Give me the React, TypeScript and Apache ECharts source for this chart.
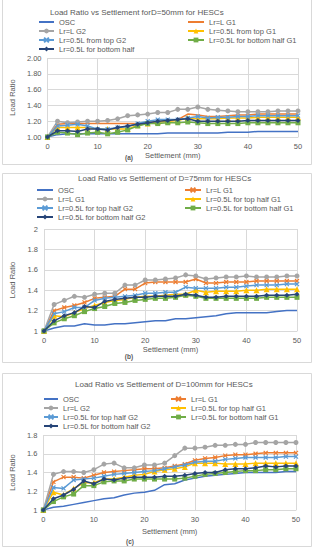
import React, { useEffect, useRef } from "react";
import * as echarts from "echarts";

const settlement = [0, 2, 4, 6, 8, 10, 12, 14, 16, 18, 20, 22, 24, 26, 28, 30, 32, 34, 36, 38, 40, 42, 44, 46, 48, 50];

// Chart (a) D=50mm
const aOSC = [1.00, 1.03, 1.04, 1.04, 1.04, 1.04, 1.04, 1.04, 1.04, 1.04, 1.04, 1.04, 1.05, 1.05, 1.05, 1.05, 1.05, 1.05, 1.06, 1.06, 1.06, 1.07, 1.07, 1.07, 1.07, 1.07];
const aLrLG1 = [1.00, 1.16, 1.17, 1.17, 1.17, 1.17, 1.17, 1.17, 1.17, 1.17, 1.18, 1.19, 1.20, 1.22, 1.29, 1.28, 1.26, 1.26, 1.27, 1.28, 1.28, 1.29, 1.29, 1.29, 1.29, 1.29];
const aLrLG2 = [1.00, 1.20, 1.18, 1.19, 1.20, 1.20, 1.21, 1.23, 1.27, 1.28, 1.29, 1.31, 1.31, 1.35, 1.35, 1.38, 1.35, 1.34, 1.33, 1.32, 1.32, 1.32, 1.32, 1.33, 1.33, 1.33];
const aTopG1 = [1.00, 1.12, 1.12, 1.12, 1.12, 1.10, 1.10, 1.10, 1.10, 1.15, 1.17, 1.19, 1.20, 1.21, 1.24, 1.23, 1.23, 1.23, 1.24, 1.24, 1.24, 1.25, 1.25, 1.25, 1.25, 1.25];
const aTopG2 = [1.00, 1.14, 1.15, 1.16, 1.14, 1.10, 1.10, 1.12, 1.13, 1.17, 1.20, 1.22, 1.22, 1.22, 1.24, 1.26, 1.24, 1.25, 1.25, 1.26, 1.26, 1.27, 1.27, 1.27, 1.27, 1.27];
const aBotG1 = [1.00, 1.06, 1.05, 1.03, 1.05, 1.06, 1.04, 1.06, 1.09, 1.14, 1.17, 1.17, 1.18, 1.18, 1.19, 1.18, 1.17, 1.17, 1.17, 1.17, 1.18, 1.18, 1.18, 1.18, 1.18, 1.18];
const aBotHalf = [1.00, 1.08, 1.08, 1.07, 1.10, 1.10, 1.09, 1.12, 1.14, 1.16, 1.18, 1.20, 1.21, 1.22, 1.23, 1.20, 1.20, 1.20, 1.20, 1.20, 1.21, 1.21, 1.21, 1.21, 1.21, 1.21];
const aLabels = ["OSC", "Lr=L G1", "Lr=L G2", "Lr=0.5L from top G1", "Lr=0.5L from top G2", "Lr=0.5L for bottom half G1", "Lr=0.5L for bottom half"];

// Chart (b) D=75mm
const bOSC = [1.00, 1.03, 1.05, 1.05, 1.07, 1.06, 1.06, 1.07, 1.07, 1.08, 1.09, 1.10, 1.10, 1.12, 1.12, 1.13, 1.14, 1.15, 1.17, 1.18, 1.18, 1.18, 1.18, 1.19, 1.20, 1.20];
const bLrLG1 = [1.00, 1.20, 1.23, 1.25, 1.28, 1.32, 1.33, 1.34, 1.41, 1.41, 1.47, 1.48, 1.48, 1.48, 1.48, 1.51, 1.47, 1.47, 1.48, 1.48, 1.48, 1.49, 1.49, 1.49, 1.49, 1.49];
const bLrLG1gray = [1.00, 1.26, 1.30, 1.34, 1.33, 1.36, 1.37, 1.37, 1.45, 1.45, 1.50, 1.50, 1.51, 1.52, 1.55, 1.54, 1.51, 1.52, 1.53, 1.53, 1.54, 1.53, 1.53, 1.53, 1.54, 1.54];
const bTopG1 = [1.00, 1.15, 1.14, 1.18, 1.22, 1.25, 1.28, 1.30, 1.31, 1.33, 1.34, 1.34, 1.35, 1.36, 1.36, 1.40, 1.38, 1.39, 1.39, 1.39, 1.40, 1.40, 1.41, 1.41, 1.41, 1.41];
const bTopG2 = [1.00, 1.17, 1.19, 1.23, 1.23, 1.30, 1.32, 1.33, 1.34, 1.35, 1.37, 1.37, 1.38, 1.38, 1.43, 1.42, 1.42, 1.42, 1.43, 1.43, 1.44, 1.45, 1.45, 1.45, 1.46, 1.46];
const bBotG1 = [1.00, 1.08, 1.12, 1.15, 1.19, 1.22, 1.24, 1.27, 1.28, 1.30, 1.31, 1.32, 1.32, 1.33, 1.35, 1.34, 1.32, 1.32, 1.32, 1.32, 1.32, 1.32, 1.33, 1.33, 1.33, 1.33];
const bBotG2 = [1.00, 1.10, 1.15, 1.18, 1.24, 1.23, 1.29, 1.31, 1.32, 1.33, 1.33, 1.34, 1.34, 1.34, 1.36, 1.35, 1.33, 1.33, 1.34, 1.34, 1.34, 1.34, 1.35, 1.35, 1.35, 1.36];
const bLabels = ["OSC", "Lr=L G1", "Lr=L G1", "Lr=0.5L for top half G1", "Lr=0.5L for top half G2", "Lr=0.5L for bottom half G1", "Lr=0.5L for bottom half G2"];

// Chart (c) D=100mm
const cOSC = [1.00, 1.03, 1.04, 1.06, 1.08, 1.10, 1.12, 1.13, 1.16, 1.18, 1.19, 1.21, 1.27, 1.28, 1.32, 1.34, 1.36, 1.37, 1.38, 1.39, 1.40, 1.40, 1.40, 1.40, 1.41, 1.41];
const cLrLG1 = [1.00, 1.30, 1.35, 1.35, 1.34, 1.37, 1.40, 1.41, 1.42, 1.43, 1.44, 1.44, 1.45, 1.47, 1.49, 1.53, 1.55, 1.56, 1.58, 1.59, 1.59, 1.60, 1.61, 1.61, 1.61, 1.61];
const cLrLG2 = [1.00, 1.38, 1.41, 1.41, 1.40, 1.43, 1.49, 1.50, 1.45, 1.45, 1.48, 1.48, 1.50, 1.58, 1.66, 1.66, 1.67, 1.69, 1.69, 1.70, 1.70, 1.72, 1.72, 1.72, 1.72, 1.72];
const cTopG1 = [1.00, 1.19, 1.16, 1.23, 1.29, 1.29, 1.33, 1.33, 1.35, 1.37, 1.38, 1.41, 1.43, 1.44, 1.46, 1.50, 1.50, 1.50, 1.49, 1.49, 1.49, 1.50, 1.50, 1.50, 1.50, 1.50];
const cTopG2 = [1.00, 1.24, 1.23, 1.32, 1.33, 1.34, 1.36, 1.38, 1.39, 1.40, 1.41, 1.42, 1.44, 1.46, 1.48, 1.51, 1.52, 1.52, 1.54, 1.55, 1.56, 1.56, 1.56, 1.56, 1.57, 1.57];
const cBotG1 = [1.00, 1.09, 1.14, 1.17, 1.26, 1.26, 1.30, 1.31, 1.31, 1.33, 1.33, 1.33, 1.33, 1.33, 1.34, 1.36, 1.38, 1.39, 1.40, 1.41, 1.42, 1.42, 1.43, 1.43, 1.44, 1.44];
const cBotG2 = [1.00, 1.12, 1.16, 1.22, 1.31, 1.28, 1.33, 1.32, 1.34, 1.35, 1.35, 1.35, 1.36, 1.36, 1.37, 1.39, 1.40, 1.40, 1.43, 1.44, 1.44, 1.45, 1.47, 1.46, 1.47, 1.47];
const cLabels = ["OSC", "Lr=L G1", "Lr=L G2", "Lr=0.5L for top half G1", "Lr=0.5L for top half G2", "Lr=0.5L for bottom half G1", "Lr=0.5L for bottom half G2"];

const titles = [
  "Load Ratio vs Settlement forD=50mm for HESCs",
  "Load Ratio vs Settlement of D=75mm for HESCs",
  "Load Ratio vs Settlement of D=100mm for HESCs",
];
const panelTags = ["(a)", "(b)", "(c)"];

const COLORS = ["#4472C4", "#ED7D31", "#A5A5A5", "#FFC000", "#5B9BD5", "#70AD47", "#264478"];
const XMARK = "path://M0,0L10,10M10,0L0,10";
const FONT = "Liberation Sans, Arial, sans-serif";
const TXT = "#595959";
const GRIDC = "#d9d9d9";

export default function App() {
  const ref = useRef<HTMLDivElement>(null);
  useEffect(() => {
    if (!ref.current) return;
    const chart = echarts.init(ref.current, null, { renderer: "svg" });

    const sets = [
      [aOSC, aLrLG1, aLrLG2, aTopG1, aTopG2, aBotG1, aBotHalf],
      [bOSC, bLrLG1, bLrLG1gray, bTopG1, bTopG2, bBotG1, bBotG2],
      [cOSC, cLrLG1, cLrLG2, cTopG1, cTopG2, cBotG1, cBotG2],
    ];
    const labelSets = [aLabels, bLabels, cLabels];
    const symbolsFor = (g: number) => [
      "none",
      g === 0 ? "none" : XMARK,
      "circle",
      "triangle",
      XMARK,
      "rect",
      "diamond",
    ];
    const prefix = ["a", "b", "c"];
    const nameMap: Record<string, string> = {};
    const noSymbol: Record<string, boolean> = {};
    const series: any[] = [];
    sets.forEach((set, g) => {
      const syms = symbolsFor(g);
      set.forEach((vals, k) => {
        const id = prefix[g] + k;
        nameMap[id] = labelSets[g][k];
        const sym = syms[k];
        noSymbol[id] = sym === "none";
        const isX = sym === XMARK;
        series.push({
          type: "line",
          name: id,
          xAxisIndex: g,
          yAxisIndex: g,
          data: settlement.map((s, i) => [s, vals[i]]),
          symbol: sym,
          symbolSize: isX ? 4 : sym === "triangle" ? 6 : 5,
          showSymbol: sym !== "none",
          lineStyle: { width: 1.5, color: COLORS[k] },
          itemStyle: { color: COLORS[k], borderColor: COLORS[k], borderWidth: isX ? 1.2 : 0 },
          z: 2 + k,
        });
      });
    });

    const grids = [
      { left: 45, top: 58, width: 253, height: 79 },
      { left: 42, top: 229, width: 255, height: 102 },
      { left: 42, top: 435, width: 254, height: 75 },
    ];
    const yRanges = [
      { min: 1, max: 2, fmt: (v: number) => v.toFixed(2) },
      { min: 1, max: 2, fmt: (v: number) => String(Math.round(v * 10) / 10) },
      { min: 1, max: 1.8, fmt: (v: number) => String(Math.round(v * 10) / 10) },
    ];
    const xNameGaps = [14, 14, 17];
    const yNameGaps = [30, 28, 24];

    const xAxis = grids.map((_, g) => ({
      type: "value",
      gridIndex: g,
      min: 0,
      max: 50,
      interval: 10,
      axisLine: { show: true, lineStyle: { color: GRIDC, width: 1 } },
      axisTick: { show: false },
      splitLine: { show: true, lineStyle: { color: GRIDC, width: 1 } },
      axisLabel: { fontSize: 7.5, color: TXT, margin: 5, fontFamily: FONT },
      name: "Settlement (mm)",
      nameLocation: "middle",
      nameGap: xNameGaps[g],
      nameTextStyle: { fontSize: 7.5, color: TXT, fontFamily: FONT },
    }));
    const yAxis = grids.map((_, g) => ({
      type: "value",
      gridIndex: g,
      min: yRanges[g].min,
      max: yRanges[g].max,
      interval: 0.2,
      axisLine: { show: false },
      axisTick: { show: false },
      splitLine: { show: true, lineStyle: { color: GRIDC, width: 1 } },
      axisLabel: { fontSize: 7.5, color: TXT, margin: 6, fontFamily: FONT, formatter: yRanges[g].fmt },
      name: "Load Ratio",
      nameLocation: "middle",
      nameGap: yNameGaps[g],
      nameTextStyle: { fontSize: 7.5, color: TXT, fontFamily: FONT },
    }));

    const legendBase = {
      orient: "vertical",
      padding: 0,
      itemHeight: 6,
      itemGap: 1,
      textStyle: { fontSize: 7.5, color: TXT, fontFamily: FONT, lineHeight: 7 },
      formatter: (n: string) => nameMap[n],
      selectedMode: false,
    };
    const legendItem = (n: string) =>
      noSymbol[n] ? { name: n, itemStyle: { opacity: 0 } } : { name: n };
    const legendPos = [
      { l: 38, r: 187, top: 18, wl: 15, wr: 16 },
      { l: 36, r: 184, top: 186, wl: 16, wr: 16 },
      { l: 43, r: 170, top: 395, wl: 14, wr: 15 },
    ];
    const legend: any[] = [];
    legendPos.forEach((p, g) => {
      const pf = prefix[g];
      legend.push({
        ...legendBase,
        left: p.l,
        top: p.top,
        itemWidth: p.wl,
        data: [pf + 0, pf + 2, pf + 4, pf + 6].map(legendItem),
      });
      legend.push({
        ...legendBase,
        left: p.r,
        top: p.top,
        itemWidth: p.wr,
        data: [pf + 1, pf + 3, pf + 5].map(legendItem),
      });
    });

    const titleCfg = [
      { left: 50, top: 8 },
      { left: 78, top: 174 },
      { left: 75, top: 380 },
    ];
    const title = titles.map((t, g) => ({
      text: t,
      left: titleCfg[g].left,
      top: titleCfg[g].top,
      padding: 0,
      textStyle: { fontSize: 8, fontWeight: "normal", color: TXT, fontFamily: FONT },
    }));

    const boxes = [
      { y: -1, h: 165 },
      { y: 173, h: 189 },
      { y: 373, h: 173 },
    ];
    const tagPos = [
      { x: 129, y: 157 },
      { x: 129, y: 356 },
      { x: 130, y: 541 },
    ];
    const graphic: any[] = [];
    boxes.forEach((b) => {
      graphic.push({
        type: "rect",
        shape: { x: 2.5, y: b.y + 0.5, width: 309, height: b.h },
        style: { fill: "none", stroke: GRIDC, lineWidth: 1 },
        silent: true,
        z: -1,
      });
    });
    tagPos.forEach((p, g) => {
      graphic.push({
        type: "text",
        x: p.x,
        y: p.y,
        style: {
          text: panelTags[g],
          fontSize: 6.5,
          fontWeight: "bold",
          fill: TXT,
          fontFamily: FONT,
          align: "center",
          verticalAlign: "middle",
        },
        silent: true,
      });
    });

    chart.setOption({
      animation: false,
      backgroundColor: "#ffffff",
      title,
      legend,
      grid: grids,
      xAxis,
      yAxis,
      series,
      graphic,
    });
    return () => chart.dispose();
  }, []);

  return (
    <div
      ref={ref}
      style={{ position: "fixed", left: 0, top: 0, width: 317, height: 550, background: "#fff" }}
    />
  );
}
